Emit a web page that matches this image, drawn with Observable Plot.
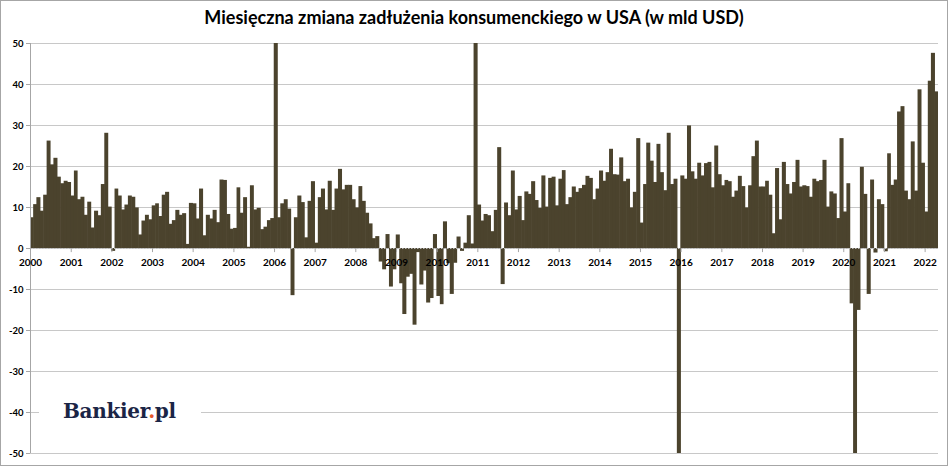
<!DOCTYPE html>
<html>
<head>
<meta charset="utf-8">
<script src="https://cdn.jsdelivr.net/npm/d3@7"></script>
<script src="https://cdn.jsdelivr.net/npm/@observablehq/plot@0.6"></script>
<style>
  body { margin: 0; background: #fff; }
  #wrap { position: relative; width: 948px; height: 466px; overflow: hidden; background: #fff; font-family: Lato, "Liberation Sans", sans-serif; }
  #title { position: absolute; left: 0; top: 7px; width: 948px; text-align: center; font: bold 18px Lato, sans-serif; line-height: 20px; color: #000; white-space: nowrap; }
  #chart { position: absolute; left: 0; top: 36px; }
  #logobox { position: absolute; left: 39px; top: 386px; width: 162px; height: 46px; background: #fff; }
  #logo { position: absolute; left: 63px; top: 402px; font: bold 20px "DejaVu Serif", serif; line-height: 19px; color: #1b2546; white-space: nowrap; letter-spacing: -0.3px; }
  #logo .dot { color: #e8572a; }
  #border { position: absolute; left: 0; top: 0; width: 948px; height: 466px; box-sizing: border-box; border: 1px solid #a6a6a6; pointer-events: none; }
</style>
</head>
<body>
<div id="wrap">
  <div id="title">Miesięczna zmiana zadłużenia konsumenckiego w USA (w mld USD)</div>
  <div id="chart"></div>
  <div id="logobox"></div>
  <div id="logo">Bankier<span class="dot">.</span>pl</div>
  <div id="border"></div>
</div>
<script>
// Monthly change of US consumer credit, bn USD, Jan 2000 – Apr 2022 (values beyond ±50 are clipped in the chart)
const startYear = 2000;
const monthlyChange = [
  7.5, 10.7, 12.4, 9.1, 13.0, 26.2, 20.4, 22.0, 17.4, 15.8, 16.4, 16.1,     // 2000
  12.8, 18.9, 11.9, 12.5, 8.1, 11.3, 5.0, 9.1, 8.0, 15.6, 28.1, 10.1,       // 2001
  -0.7, 14.5, 12.8, 9.4, 10.6, 12.8, 12.5, 9.9, 3.3, 6.7, 8.1, 7.0,         // 2002
  10.4, 10.9, 7.8, 13.0, 13.7, 5.9, 6.8, 9.3, 8.1, 8.5, 1.0, 11.0,          // 2003
  10.9, 7.2, 14.5, 3.1, 8.1, 7.2, 9.3, 6.3, 16.7, 16.6, 8.3, 4.7,           // 2004
  4.9, 14.8, 8.6, 12.4, 0.3, 15.3, 9.4, 9.8, 4.6, 5.2, 6.8, 7.3,            // 2005
  55, 7.5, 10.9, 11.9, 9.6, -11.5, 7.5, 12.8, 11.2, 2.6, 11.5, 16.3,        // 2006
  1.3, 12.4, 14.5, 9.4, 16.4, 9.3, 14.5, 19.3, 14.3, 15.4, 15.4, 11.9,      // 2007
  9.9, 15.1, 11.5, 8.6, 6.0, 2.4, 2.9, -3.3, -5.2, 3.4, -9.4, -5.2,         // 2008
  3.3, -8.6, -16.1, -7.0, -6.3, -18.7, -1.0, -8.9, -5.5, -13.3, -12.2, 3.4, // 2009
  -11.7, -13.7, 6.5, -3.7, -11.2, -3.6, 2.8, -0.7, 1.3, 8.0, 1.1, 55,       // 2010
  10.6, 6.7, 8.3, 8.0, 4.1, 9.3, 24.6, -8.8, 11.1, 8.0, 18.9, 9.4,          // 2011
  12.7, 6.8, 13.8, 13.2, 16.3, 11.7, 9.8, 17.7, 10.1, 17.1, 17.4, 10.4,     // 2012
  16.9, 19.0, 10.7, 12.4, 15.0, 13.7, 14.6, 15.4, 17.6, 17.1, 11.9, 14.5,   // 2013
  18.9, 16.4, 18.5, 24.2, 18.0, 17.9, 22.1, 16.3, 16.9, 9.9, 13.7, 26.8,    // 2014
  6.2, 15.6, 25.7, 21.3, 16.1, 25.4, 18.5, 14.1, 28.1, 15.6, 16.9, -55,     // 2015
  17.7, 16.9, 29.9, 18.7, 16.9, 20.8, 17.7, 20.7, 21.0, 14.8, 25.0, 18.0,   // 2016
  15.3, 16.6, 16.3, 12.5, 14.0, 17.6, 15.1, 9.9, 15.3, 22.4, 26.2, 15.0,    // 2017
  15.0, 16.4, 13.0, 3.6, 19.5, 7.0, 21.0, 15.6, 13.3, 16.1, 21.5, 15.0,     // 2018
  15.3, 15.1, 12.5, 16.9, 16.3, 16.6, 21.5, 10.1, 13.8, 13.3, 7.3, 26.8,    // 2019
  8.9, 15.8, -13.5, -68.8, -15.1, 19.8, 13.2, -11.2, 16.7, -1.1, 11.9, 10.7,// 2020
  -0.8, 23.1, 15.4, 16.7, 33.3, 34.6, 14.0, 11.9, 26.0, 14.0, 38.7, 20.8,   // 2021
  8.9, 40.8, 47.6, 38.2                                                     // 2022
];
const yearLabels = ["2000","2001","2002","2003","2004","2005","2006","2007","2008","2009","2010",
  "2011","2012","2013","2014","2015","2016","2017","2018","2019","2020","2021","2022"];
const yTicks = [-50, -40, -30, -20, -10, 0, 10, 20, 30, 40, 50];

const data = monthlyChange.map((v, i) => ({ date: new Date(Date.UTC(startYear, i, 1)), value: v }));
const yearDates = yearLabels.map(y => new Date(Date.UTC(+y, 0, 1)));
const xDomain = [data[0].date, d3.utcMonth.offset(data[data.length - 1].date, 1)];

const chart = Plot.plot({
  width: 948,
  height: 430,
  marginTop: 7,
  marginBottom: 13,
  marginLeft: 30,
  marginRight: 10,
  style: { fontFamily: "Lato, 'Liberation Sans', sans-serif", background: "transparent", overflow: "visible" },
  x: { type: "utc", domain: xDomain, axis: null },
  y: { domain: [-50, 50], axis: null },
  marks: [
    Plot.gridY(yTicks, { stroke: "#c8c8c8", strokeOpacity: 1 }),
    Plot.rectY(data, { x: "date", interval: "month", y: "value", fill: "#4b432d", clip: true,
      insetLeft: -0.3, insetRight: -0.3 }),
    Plot.ruleY([0], { stroke: "#b8b8b8", strokeDasharray: "1.5,1.5" }),
    Plot.ruleX([xDomain[0]], { stroke: "#a6a6a6" }),
    Plot.axisY(yTicks, { anchor: "left", label: null, tickSize: 4, tickPadding: 3, stroke: "#a6a6a6", fill: "#000",
      fontSize: 9.5, fontWeight: "bold", tickFormat: d => String(d) }),
    Plot.ruleX(yearDates, { x: d => d, y1: 0, y2: -1, stroke: "#a6a6a6" }),
    Plot.text(yearDates, { x: d => d, y: 0, dy: 14, text: (d, i) => yearLabels[i],
      fontSize: 10, fontWeight: "bold", fill: "#000", lineAnchor: "middle" })
  ]
});
document.getElementById("chart").appendChild(chart);
</script>
</body>
</html>
